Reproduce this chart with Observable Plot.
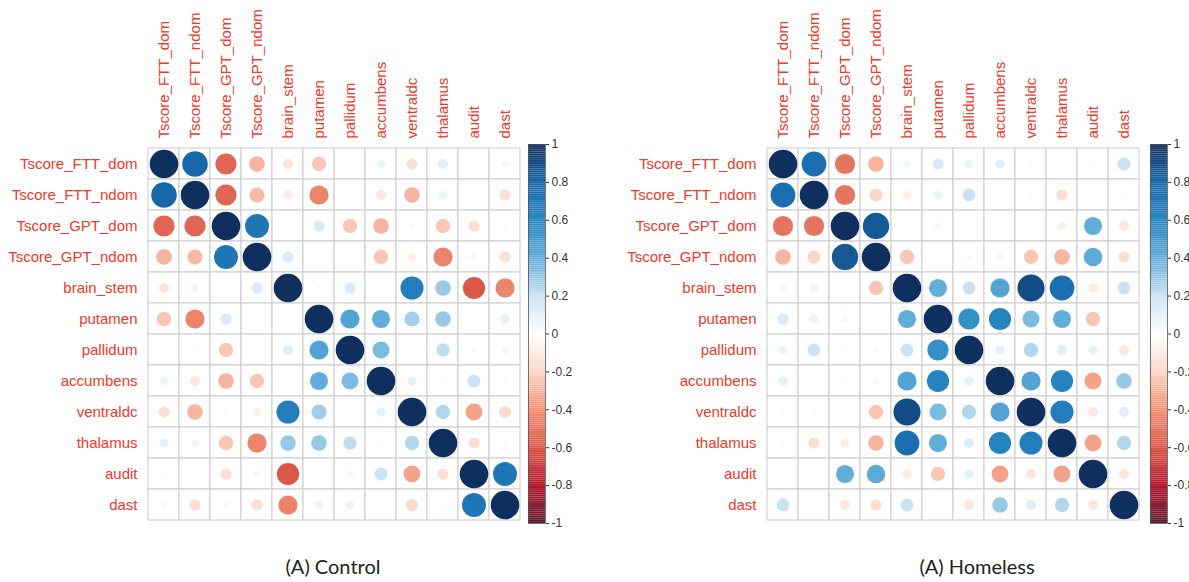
<!DOCTYPE html>
<html><head><meta charset="utf-8">
<script src="https://cdn.jsdelivr.net/npm/d3@7"></script>
<script src="https://cdn.jsdelivr.net/npm/@observablehq/plot@0.6"></script>
<style>
html,body{margin:0;padding:0;background:#fff;overflow:hidden;}
#wrap{position:relative;width:1189px;height:582px;overflow:hidden;}
.abs{position:absolute;top:0;}
.cap{position:absolute;top:554px;font-family:Lato,"Open Sans",sans-serif;font-size:20px;color:#222;transform:translateX(-50%);white-space:nowrap;}
</style></head><body><div id="wrap"></div>
<script>
const variables = ["Tscore_FTT_dom","Tscore_FTT_ndom","Tscore_GPT_dom","Tscore_GPT_ndom","brain_stem","putamen","pallidum","accumbens","ventraldc","thalamus","audit","dast"];

const controlMatrix = [
  [1, 0.8, -0.55, -0.3, -0.12, -0.25, 0, 0.08, -0.15, 0.12, -0.02, -0.05],
  [0.8, 1, -0.55, -0.28, -0.1, -0.45, 0.02, -0.12, -0.3, 0.08, 0, -0.15],
  [-0.55, -0.55, 1, 0.7, 0, 0.15, -0.25, -0.3, 0.03, -0.25, -0.15, -0.03],
  [-0.3, -0.28, 0.7, 1, 0.15, 0.02, 0, -0.25, -0.08, -0.45, -0.05, -0.15],
  [-0.12, -0.08, 0, 0.15, 1, 0.03, 0.15, 0, 0.65, 0.3, -0.6, -0.45],
  [-0.25, -0.45, 0.15, 0.02, 0.03, 1, 0.45, 0.4, 0.28, 0.3, 0, 0.1],
  [0, 0.02, -0.25, 0, 0.12, 0.45, 1, 0.35, 0, 0.22, -0.03, 0.06],
  [0.08, -0.12, -0.3, -0.25, 0, 0.4, 0.35, 1, 0.1, 0.02, 0.2, 0.02],
  [-0.15, -0.3, 0.03, -0.08, 0.65, 0.28, 0, 0.1, 1, 0.25, -0.35, -0.18],
  [0.1, 0.06, -0.25, -0.45, 0.3, 0.3, 0.22, 0.02, 0.25, 1, -0.15, 0.03],
  [-0.02, 0, -0.15, -0.05, -0.6, 0, -0.05, 0.2, -0.35, -0.15, 1, 0.7],
  [-0.05, -0.15, -0.05, -0.15, -0.45, 0.08, 0.08, 0.02, -0.18, 0.03, 0.7, 1]
];

const homelessMatrix = [
  [1, 0.75, -0.5, -0.3, 0.05, 0.15, 0.08, 0.1, 0.02, -0.02, -0.02, 0.2],
  [0.75, 1, -0.5, -0.2, -0.08, 0.08, 0.2, 0, -0.03, -0.15, 0, -0.02],
  [-0.5, -0.5, 1, 0.85, 0, 0.05, 0.02, -0.02, 0, -0.08, 0.4, -0.12],
  [-0.3, -0.2, 0.85, 1, -0.25, 0.02, 0.04, -0.05, -0.25, -0.3, 0.42, -0.15],
  [0.05, -0.08, 0, -0.25, 1, 0.4, 0.2, 0.45, 0.9, 0.75, -0.1, 0.2],
  [0.15, 0.08, 0.05, 0.02, 0.4, 1, 0.55, 0.6, 0.35, 0.4, -0.25, 0],
  [0.08, 0.2, 0.02, 0.04, 0.2, 0.55, 1, 0.1, 0.25, 0.12, 0.1, -0.12],
  [0.1, 0, -0.02, -0.05, 0.45, 0.6, 0.1, 1, 0.45, 0.6, -0.35, 0.3],
  [0.02, -0.03, 0, -0.25, 0.9, 0.35, 0.25, 0.45, 1, 0.65, -0.12, 0.12],
  [-0.02, -0.15, -0.1, -0.3, 0.75, 0.4, 0.12, 0.6, 0.65, 1, -0.35, 0.25],
  [-0.02, 0, 0.4, 0.42, -0.1, -0.25, 0.1, -0.35, -0.12, -0.35, 1, -0.12],
  [0.2, -0.02, -0.12, -0.15, 0.2, 0, -0.12, 0.3, 0.12, 0.25, -0.12, 1]
];

const colorbarTicks = [-1, -0.8, -0.6, -0.4, -0.2, 0, 0.2, 0.4, 0.6, 0.8, 1];
const rdbuColors = ["#5E1A2C","#B2182B","#D9584A","#F29176","#FCD6C6","#FFFFFF","#CBE3F1","#62AEDA","#2584C0","#1767A9","#0F2F5E"];
const captions = ["(A) Control", "(A) Homeless"];

const labelColor = "#f0392a";
const font = "'Liberation Sans', Arial, sans-serif";
const colorScale = {type: "linear", domain: colorbarTicks, range: rdbuColors, clamp: true};

function matrixPlot(M) {
  const data = [];
  variables.forEach((rv, i) => variables.forEach((cv, j) => data.push({row: rv, col: cv, value: M[i][j]})));
  return Plot.plot({
    width: 525, height: 525,
    marginLeft: 144, marginRight: 2, marginTop: 144, marginBottom: 2,
    style: {fontFamily: font, fontSize: "15px", background: "transparent"},
    x: {type: "band", domain: variables, padding: 0, axis: null},
    y: {type: "band", domain: variables, padding: 0, axis: null},
    color: colorScale,
    r: {type: "sqrt", domain: [0, 1], range: [0, 14.3]},
    marks: [
      Plot.cell(data, {x: "col", y: "row", fill: "white", stroke: "#cbcbcb", strokeWidth: 1}),
      Plot.dot(data, {x: "col", y: "row", r: d => Math.abs(d.value), fill: "value", stroke: "none"}),
      Plot.axisX({anchor: "top", tickRotate: -90, tickSize: 0, tickPadding: 6, color: labelColor, fontSize: 15, label: null}),
      Plot.axisY({anchor: "left", tickSize: 0, tickPadding: 7, color: labelColor, fontSize: 15, label: null})
    ]
  });
}

function colorbarPlot() {
  const steps = d3.range(200).map(k => ({y1: -1 + k * 0.01, y2: -1 + (k + 1) * 0.01}));
  return Plot.plot({
    width: 70, height: 535,
    marginLeft: 8, marginRight: 45, marginTop: 144, marginBottom: 12,
    style: {fontFamily: font, fontSize: "12px", background: "transparent", color: "#333"},
    x: {domain: [0, 1], axis: null},
    y: {domain: [-1, 1], axis: null},
    color: colorScale,
    marks: [
      Plot.rect(steps, {x1: 0, x2: 1, y1: "y1", y2: "y2", fill: d => (d.y1 + d.y2) / 2, stroke: null}),
      Plot.frame({stroke: "#555", strokeWidth: 0.8}),
      Plot.axisY({anchor: "right", ticks: colorbarTicks, tickSize: 3, tickPadding: 3, fontSize: 12,
        tickFormat: d => String(+d.toFixed(1)), label: null, color: "#333"})
    ]
  });
}

const wrap = document.getElementById("wrap");
function place(el, left) { el.classList.add("abs"); el.style.left = left + "px"; wrap.appendChild(el); }
place(matrixPlot(controlMatrix), 0);
place(colorbarPlot(), 520);
place(matrixPlot(homelessMatrix), 619);
place(colorbarPlot(), 1142);
[[333, captions[0]], [977, captions[1]]].forEach(([x, t]) => {
  const d = document.createElement("div");
  d.className = "cap"; d.style.left = x + "px"; d.textContent = t; wrap.appendChild(d);
});
</script></body></html>
